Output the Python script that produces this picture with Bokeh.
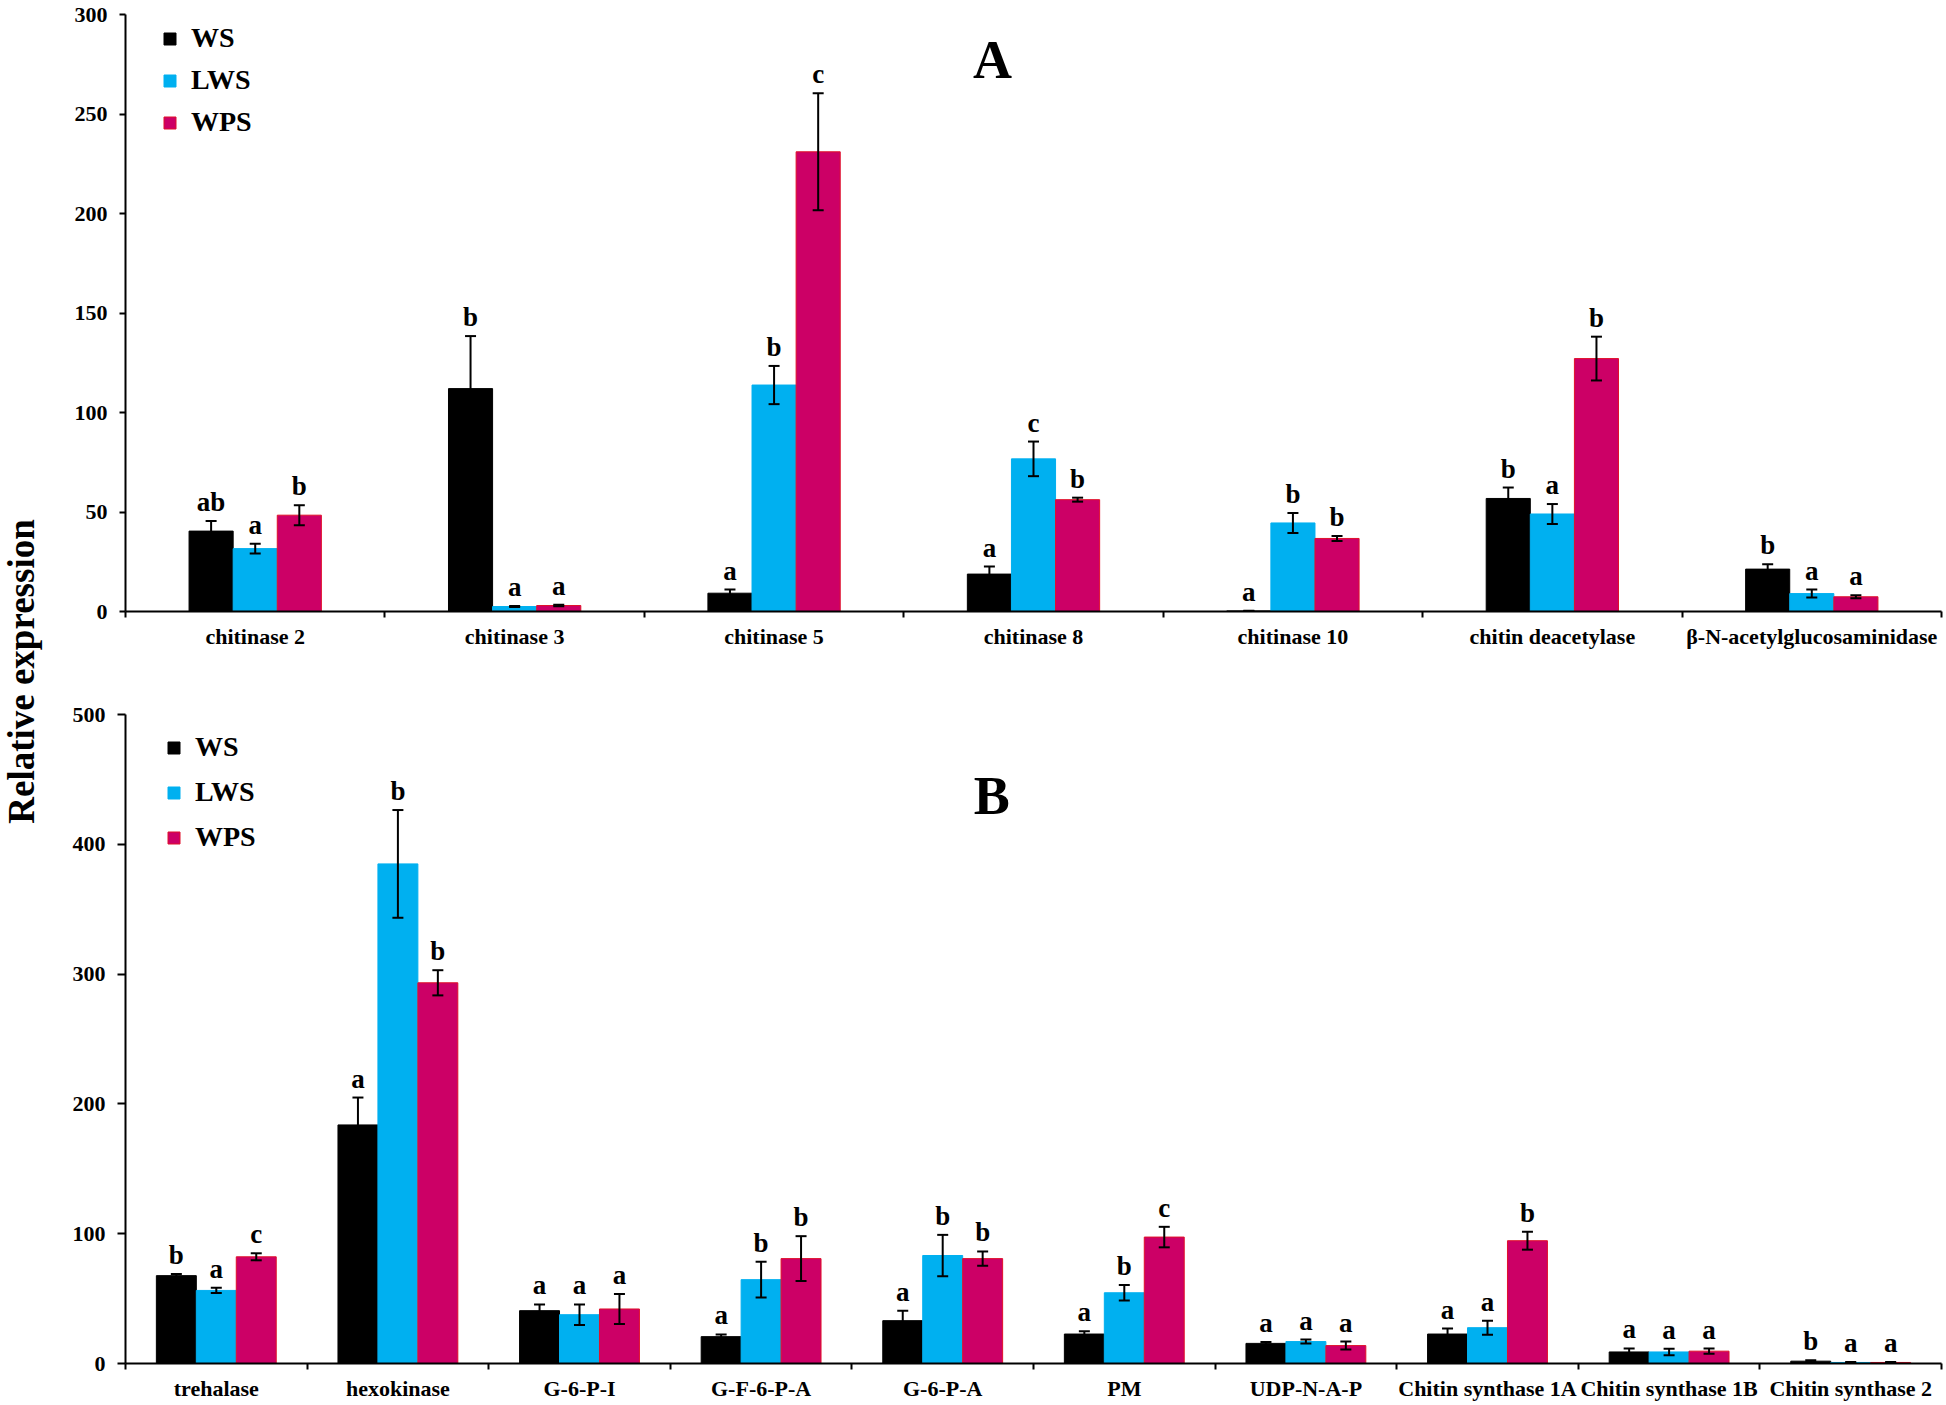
import numpy as np
from math import pi
from bokeh.plotting import figure
from bokeh.layouts import row, column
from bokeh.models import (ColumnDataSource, Range1d, FixedTicker, SingleIntervalTicker,
                          CustomJSTickFormatter, Whisker, TeeHead, Legend, LegendItem, Label)
from bokeh.core.properties import value
from bokeh.embed import file_html
from bokeh.resources import INLINE

FONT = "Liberation Serif"

# ---------------- data: panel A ----------------
cats_a = ["chitinase 2", "chitinase 3", "chitinase 5", "chitinase 8", "chitinase 10",
          "chitin deacetylase", "β-N-acetylglucosaminidase"]
ws_a = [40.4, 112.0, 9.2, 18.8, 0.3, 56.8, 21.3]
ws_a_err = [5.1, 26.4, 1.8, 3.8, 0.1, 5.5, 2.5]
lws_a = [31.6, 2.5, 113.8, 76.7, 44.5, 49.0, 9.0]
lws_a_err = [2.5, 0.3, 9.6, 8.7, 5.0, 5.0, 2.0]
wps_a = [48.4, 3.0, 231.0, 56.2, 36.7, 127.1, 7.4]
wps_a_err = [5.0, 0.4, 29.4, 1.0, 1.3, 11.0, 0.8]
ws_a_sig = ["ab", "b", "a", "a", "a", "b", "b"]
lws_a_sig = ["a", "a", "b", "c", "b", "a", "a"]
wps_a_sig = ["b", "a", "c", "b", "b", "b", "a"]

# ---------------- data: panel B ----------------
cats_b = ["trehalase", "hexokinase", "G-6-P-I", "G-F-6-P-A", "G-6-P-A", "PM", "UDP-N-A-P",
          "Chitin synthase 1A", "Chitin synthase 1B", "Chitin synthase 2"]
ws_b = [67.7, 183.8, 40.7, 20.7, 33.0, 22.7, 15.5, 22.7, 8.9, 1.8]
ws_b_err = [1.3, 21.1, 4.8, 1.7, 7.7, 2.1, 1.0, 4.2, 2.7, 0.8]
lws_b = [56.3, 384.9, 37.6, 64.6, 83.2, 54.5, 16.9, 27.6, 8.9, 0.8]
lws_b_err = [2.0, 41.5, 7.9, 13.8, 15.9, 5.9, 1.5, 5.4, 2.5, 0.3]
wps_b = [82.2, 293.3, 42.0, 80.8, 80.8, 97.4, 13.8, 94.6, 9.5, 0.8]
wps_b_err = [2.7, 9.7, 11.5, 17.3, 5.5, 7.9, 3.1, 6.9, 2.0, 0.3]
ws_b_sig = ["b", "a", "a", "a", "a", "a", "a", "a", "a", "b"]
lws_b_sig = ["a", "b", "a", "b", "b", "b", "a", "a", "a", "a"]
wps_b_sig = ["c", "b", "a", "b", "b", "c", "a", "b", "a", "a"]

series_names = ["WS", "LWS", "WPS"]
fill_colors = ["#000000", "#00B0F0", "#CC0066"]
line_colors = ["#000000", "#00B0F0", "#E0102A"]

LABEL_W = 48
PANEL_W = 1946 - LABEL_W
TOP_H = 694
BOT_H = 711


def make_panel(cats, series, errs, sigs, ymax, yint, height, border_top,
               border_bottom, bw, ytick_out, legend_loc, legend_spacing, panel_letter,
               letter_pos):
    n = len(cats)
    p = figure(width=PANEL_W, height=height, output_backend="svg", toolbar_location=None,
               x_range=Range1d(-0.5, n - 0.5), y_range=Range1d(0, ymax),
               min_border_left=125 - LABEL_W, min_border_right=5,
               min_border_top=border_top, min_border_bottom=border_bottom)
    p.outline_line_color = None
    p.xgrid.visible = False
    p.ygrid.visible = False
    p.background_fill_color = "white"

    idx = np.arange(n)
    offsets = [-bw, 0.0, bw]
    items = []
    for k in range(3):
        vals = np.array(series[k], dtype=float)
        err = np.array(errs[k], dtype=float)
        src = ColumnDataSource(dict(x=idx + offsets[k], top=vals, upper=vals + err,
                                    lower=np.maximum(vals - err, 0), sig=sigs[k]))
        r = p.vbar(x="x", top="top", width=bw, source=src, fill_color=fill_colors[k],
                   line_color=line_colors[k], line_width=1)
        items.append(LegendItem(label=series_names[k], renderers=[r]))
        w = Whisker(source=src, base="x", upper="upper", lower="lower",
                    line_color="black", line_width=2, level="annotation",
                    upper_head=TeeHead(size=11, line_color="black", line_width=2),
                    lower_head=TeeHead(size=11, line_color="black", line_width=2))
        p.add_layout(w)
        p.text(x="x", y="upper", text="sig", source=src, text_align="center",
               text_baseline="alphabetic", y_offset=-19, text_font=value(FONT),
               text_font_style="bold", text_font_size="27px", text_color="black")

    # x axis: labels at category centres, ticks at category boundaries
    xa = p.xaxis[0]
    xa.ticker = FixedTicker(ticks=list(range(n)),
                            minor_ticks=[i - 0.5 for i in range(n + 1)])
    xa.formatter = CustomJSTickFormatter(args=dict(names=cats),
                                         code="const i = Math.round(tick); return (i >= 0 && i < names.length) ? names[i] : '';")
    xa.major_tick_line_color = None
    xa.major_tick_out = 0
    xa.major_tick_in = 0
    xa.minor_tick_line_color = "black"
    xa.minor_tick_line_width = 2
    xa.minor_tick_out = 6
    xa.minor_tick_in = 0
    xa.axis_line_color = "black"
    xa.axis_line_width = 2
    xa.major_label_text_font = FONT
    xa.major_label_text_font_style = "bold"
    xa.major_label_text_font_size = "22px"
    xa.major_label_text_color = "black"
    xa.major_label_standoff = 6

    # y axis
    ya = p.yaxis[0]
    ya.ticker = SingleIntervalTicker(interval=yint, num_minor_ticks=0)
    ya.minor_tick_line_color = None
    ya.major_tick_line_color = "black"
    ya.major_tick_line_width = 2
    ya.major_tick_out = ytick_out
    ya.major_tick_in = 0
    ya.axis_line_color = "black"
    ya.axis_line_width = 2
    ya.major_label_text_font = FONT
    ya.major_label_text_font_style = "bold"
    ya.major_label_text_font_size = "22px"
    ya.major_label_text_color = "black"
    ya.major_label_standoff = 12

    leg = Legend(items=items, location=legend_loc, padding=0, margin=0,
                 spacing=legend_spacing, glyph_width=15, glyph_height=15,
                 label_height=34, label_standoff=14, label_text_font=FONT,
                 label_text_font_style="bold", label_text_font_size="28px",
                 label_text_color="black", border_line_color=None,
                 background_fill_alpha=0)
    p.add_layout(leg)

    p.add_layout(Label(x=letter_pos[0], y=letter_pos[1], text=panel_letter,
                       text_align="center", text_baseline="middle",
                       text_font=FONT, text_font_style="bold",
                       text_font_size="54px", text_color="black"))
    return p


p1 = make_panel(cats_a, [ws_a, lws_a, wps_a], [ws_a_err, lws_a_err, wps_a_err],
                [ws_a_sig, lws_a_sig, wps_a_sig], 300, 50, TOP_H,
                14, 83, 0.17, 6, (37, 472), 8, "A", (2.842, 277))
p2 = make_panel(cats_b, [ws_b, lws_b, wps_b], [ws_b_err, lws_b_err, wps_b_err],
                [ws_b_sig, lws_b_sig, wps_b_sig], 500, 100, BOT_H,
                20, 42, 0.22, 8, (41, 509), 11, "B", (4.27, 437))

H = TOP_H + BOT_H
pl = figure(width=LABEL_W, height=H, output_backend="svg", toolbar_location=None,
            x_range=Range1d(0, LABEL_W), y_range=Range1d(0, H),
            x_axis_type=None, y_axis_type=None, min_border=0)
pl.outline_line_color = None
pl.xgrid.visible = False
pl.ygrid.visible = False
pl.add_layout(Label(x=21, y=H - 671, text="Relative expression", angle=pi / 2,
                    text_align="center", text_baseline="middle",
                    text_font=FONT, text_font_style="bold", text_font_size="37px",
                    text_color="black"))

layout = row(pl, column(p1, p2))
open("out.html", "w").write(file_html(layout, INLINE))
